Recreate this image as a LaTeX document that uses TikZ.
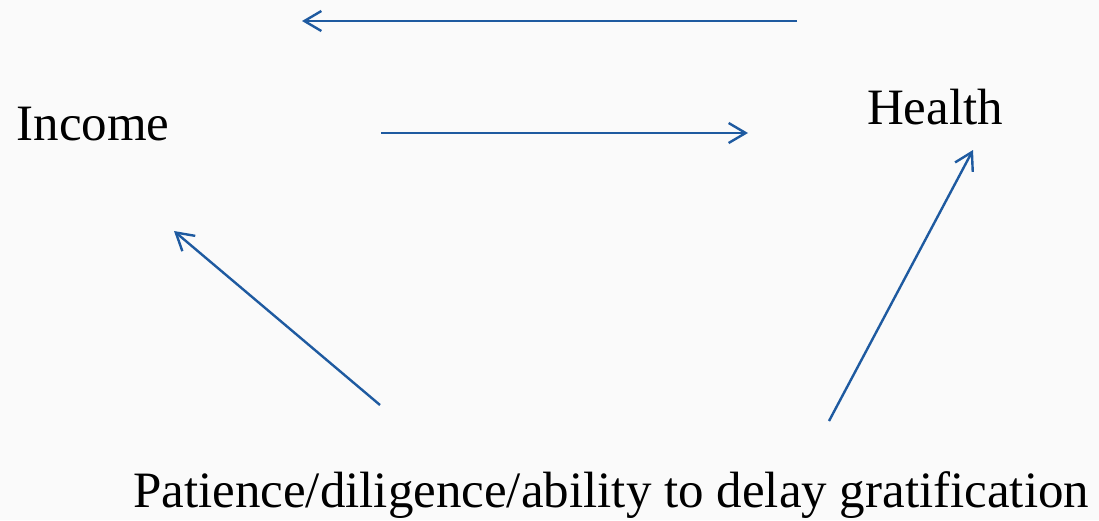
\documentclass[tikz,border=0pt]{standalone}
\usepackage{fontspec}
\setmainfont{Liberation Serif}
\usetikzlibrary{arrows.meta}
\definecolor{arrowblue}{RGB}{30, 90, 160}
\definecolor{paper}{RGB}{250, 250, 250}

\begin{document}
\begin{tikzpicture}[x=1pt, y=-1pt,
        label/.style = {text=black, inner sep=0pt, anchor=base, font=\fontsize{51}{58}\selectfont},
        link/.style = {draw=arrowblue, line width=2.4pt, -{Straight Barb[length=17pt, width=20pt, line width=2.4pt]}}]
    \fill[paper] (0,0) rectangle (1099,520);
    \node[label] (income) at (93,140) {Income};
    \node[label] (health) at (935,124) {Health};
    \node[label] (patience) at (611,507) {Patience/diligence/ability to delay gratification};
    \coordinate (t1) at (797,21);
    \coordinate (t2) at (302,21);
    \coordinate (m1) at (381,133);
    \coordinate (m2) at (748,133);
    \coordinate (l1) at (380,405);
    \coordinate (l2) at (174,231);
    \coordinate (r1) at (829,421);
    \coordinate (r2) at (973,150);
    \draw[link] (t1) -- (t2);
    \draw[link] (m1) -- (m2);
    \draw[link] (l1) -- (l2);
    \draw[link] (r1) -- (r2);
\end{tikzpicture}
\end{document}
